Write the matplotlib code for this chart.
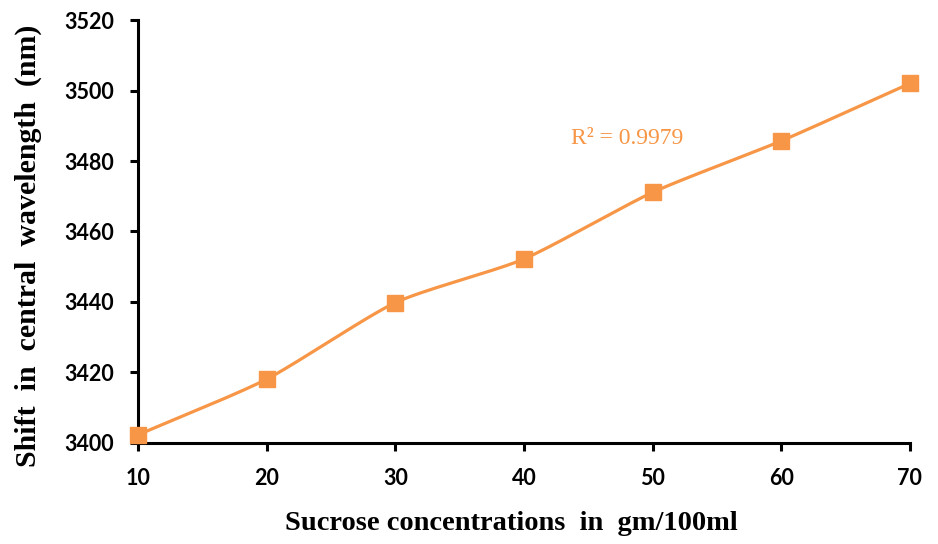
import numpy as np
import matplotlib.pyplot as plt

conc = [10, 20, 30, 40, 50, 60, 70]
shift = [3402.3, 3418.1, 3439.8, 3452.2, 3471.1, 3485.7, 3502.0]
r2_text = 'R² = 0.9979'
orange = '#F79646'


def smooth(x, y, k=1 / 9, n=30):
    # cubic Bezier through the points (Excel style "smoothed line")
    p = np.column_stack([x, y]).astype(float)
    p = np.vstack([2 * p[0] - p[1], p, 2 * p[-1] - p[-2]])
    t = np.linspace(0, 1, n)[:, None]
    pts = []
    for i in range(1, len(p) - 2):
        b0, b3 = p[i], p[i + 1]
        b1 = b0 + (p[i + 1] - p[i - 1]) * k
        b2 = b3 - (p[i + 2] - p[i]) * k
        pts.append((1 - t) ** 3 * b0 + 3 * (1 - t) ** 2 * t * b1
                   + 3 * (1 - t) * t ** 2 * b2 + t ** 3 * b3)
    pts = np.vstack(pts)
    return pts[:, 0], pts[:, 1]


fig = plt.figure(figsize=(9.38, 5.44), dpi=100)
ax = fig.add_axes([0.1471, 0.1857, 0.8229, 0.7775])

sx, sy = smooth(conc, shift)
ax.plot(sx, sy, color=orange, lw=2.3, zorder=2, clip_on=False)
ax.plot(conc, shift, ls='none', marker='s', ms=12, color=orange, zorder=3, clip_on=False)

ax.set_xlim(10, 70)
ax.set_ylim(3400, 3520)
ax.set_xticks(conc)
ax.set_yticks(range(3400, 3521, 20))

for s in ['top', 'right']:
    ax.spines[s].set_visible(False)
for s in ['left', 'bottom']:
    ax.spines[s].set_linewidth(2.2)

ax.tick_params(axis='both', direction='out', length=6, width=2.2)
ax.tick_params(axis='x', pad=12)
ax.tick_params(axis='y', pad=11)
for lab in ax.get_xticklabels() + ax.get_yticklabels():
    lab.set_fontfamily('Lato')
    lab.set_fontweight('bold')
    lab.set_fontsize(15.5)

ax.text(48.0, 3486.3, r2_text, color=orange, fontsize=17,
        fontfamily='Liberation Serif', ha='center', va='center')

fig.text(0.545, 0.038, 'Sucrose concentrations  in  gm/100ml', fontsize=20.5,
         fontfamily='Liberation Serif', fontweight='bold', ha='center', va='center')
fig.text(0.03, 0.549, 'Shift  in  central  wavelength  (nm)', fontsize=21.5,
         fontfamily='Liberation Serif', fontweight='bold', ha='center', va='center',
         rotation=90)

plt.savefig('out.png', dpi=100)
